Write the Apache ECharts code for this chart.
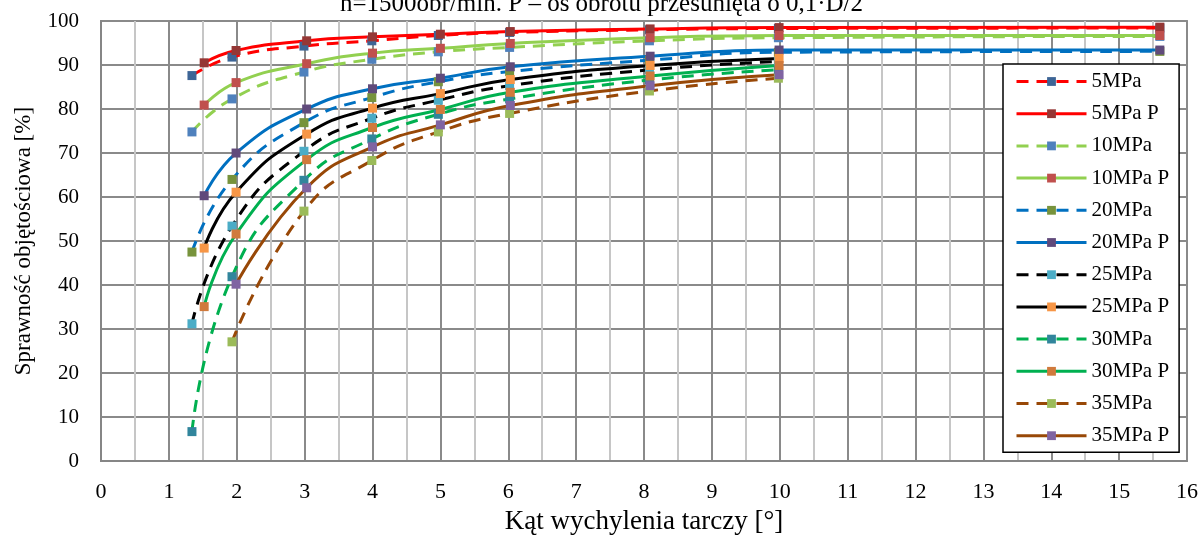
<!DOCTYPE html>
<html>
<head>
<meta charset="utf-8">
<script src="https://cdn.jsdelivr.net/npm/echarts@6/dist/echarts.min.js"></script>
<style>
  html, body { margin: 0; padding: 0; background: #fff; }
  #chart { width: 1203px; height: 540px; }
</style>
</head>
<body>
<div id="chart"></div>
<script>
// katy wychylenia (pomiar / wersja P)
var xPom = [1.34, 1.93, 2.99, 3.99, 4.97, 6.02, 8.08, 9.98, 15.6];
var xP   = [1.52, 1.99, 3.03, 4.0, 5.0, 6.03, 8.09, 9.99, 15.6];

var names = ['5MPa', '5MPa P', '10MPa', '10MPa P', '20MPa', '20MPa P',
             '25MPa', '25MPa P', '30MPa', '30MPa P', '35MPa', '35MPa P'];

var v5    = [87.6, 91.8, 94.3, 95.5, 96.7, 97.4, 98.0, 98.3, 98.4];
var v5P   = [90.5, 93.3, 95.5, 96.4, 97.0, 97.6, 98.2, 98.5, 98.6];
var v10   = [74.8, 82.3, 88.4, 91.3, 93.0, 94.0, 95.5, 96.2, 96.5];
var v10P  = [80.9, 86.0, 90.3, 92.7, 93.8, 94.9, 96.2, 96.7, 96.7];
var v20   = [47.5, 64.0, 76.9, 82.6, 86.2, 88.5, 91.1, 92.9, 93.1];
var v20P  = [60.3, 70.0, 80.0, 84.6, 87.0, 89.6, 92.0, 93.4, 93.4];
var v25   = [31.2, 53.4, 70.4, 77.9, 82.0, 85.3, 88.9, 90.8];
var v25P  = [48.4, 61.1, 74.3, 80.2, 83.5, 86.7, 89.9, 91.5];
var v30   = [6.7, 41.9, 63.8, 73.2, 78.8, 82.3, 86.6, 88.9];
var v30P  = [35.1, 51.6, 68.5, 75.8, 79.9, 83.8, 87.5, 89.9];
// 35MPa zaczyna sie od drugiego kata
var v35   = [null, 27.1, 56.8, 68.3, 74.8, 79.0, 84.1, 87.0];
var v35P  = [null, 40.2, 62.1, 71.4, 76.4, 80.8, 85.3, 87.8];

var values = [v5, v5P, v10, v10P, v20, v20P, v25, v25P, v30, v30P, v35, v35P];
var lineColors = ['#ff0000', '#ff0000', '#92d050', '#92d050', '#0070c0', '#0070c0',
                  '#000000', '#000000', '#00b050', '#00b050', '#984807', '#984807'];
var markColors = ['#3d6596', '#953735', '#4f81bd', '#c0504d', '#77933c', '#604a7b',
                  '#4bacc6', '#f79646', '#31859c', '#d07a3c', '#9bbb59', '#8064a2'];

var font = '"Liberation Serif", "Times New Roman", serif';

var series = names.map(function (name, i) {
    var isP = i % 2 === 1;
    var xs = isP ? xP : xPom;
    var pts = [];
    values[i].forEach(function (v, k) {
        if (v !== null) pts.push([xs[k], v]);
    });
    return {
        name: name,
        type: 'line',
        data: pts,
        smooth: 0.5,
        symbol: 'rect',
        symbolSize: 9,
        showAllSymbol: true,
        itemStyle: { color: markColors[i] },
        lineStyle: {
            color: lineColors[i],
            width: 3,
            type: isP ? 'solid' : [12, 8]
        },
        emphasis: { disabled: true },
        animation: false
    };
});

var myChart = echarts.init(document.getElementById('chart'));
var option = {
    backgroundColor: '#fff',
    animation: false,
    title: {
        text: 'n=1500obr/min. P \u2013 oś obrotu przesunięta o 0,1·D/2',
        left: 'center',
        top: -13,
        textStyle: { fontFamily: font, fontSize: 25, fontWeight: 'normal', color: '#000' }
    },
    grid: {
        left: 101, right: 16, top: 21, bottom: 78,
        show: true, borderColor: '#404040', borderWidth: 1.5, backgroundColor: 'transparent'
    },
    legend: {
        data: names,
        orient: 'vertical',
        left: 1003,
        top: 64,
        backgroundColor: '#fff',
        borderColor: '#000',
        borderWidth: 1.5,
        padding: [7, 10, 6, 12],
        itemWidth: 70,
        itemHeight: 11,
        itemGap: 11.2,
        lineStyle: { width: 3 },
        textStyle: { fontFamily: font, fontSize: 21, color: '#000' }
    },
    xAxis: {
        type: 'value',
        min: 0, max: 16, interval: 1,
        name: 'Kąt wychylenia tarczy [°]',
        nameLocation: 'middle',
        nameGap: 44,
        nameTextStyle: { fontFamily: font, fontSize: 27, color: '#000' },
        axisLine: { onZero: false, lineStyle: { color: '#868686', width: 2 } },
        axisTick: { show: false },
        axisLabel: { fontFamily: font, fontSize: 22, color: '#000', margin: 20 },
        splitLine: { show: true, lineStyle: { color: '#8a8a8a', width: 2 } },
        minorTick: { show: false, splitNumber: 2 },
        minorSplitLine: { show: true, lineStyle: { color: '#c6c6c6', width: 2 } }
    },
    yAxis: {
        type: 'value',
        min: 0, max: 100, interval: 10,
        name: 'Sprawność objętościowa [%]',
        nameLocation: 'middle',
        nameGap: 66,
        nameTextStyle: { fontFamily: font, fontSize: 23, color: '#000' },
        axisLine: { show: true, lineStyle: { color: '#868686', width: 2 } },
        axisTick: { show: false },
        axisLabel: { fontFamily: font, fontSize: 21, color: '#000', margin: 22 },
        splitLine: { show: true, lineStyle: { color: '#8a8a8a', width: 2 } }
    },
    series: series
};
myChart.setOption(option);
</script>
</body>
</html>
